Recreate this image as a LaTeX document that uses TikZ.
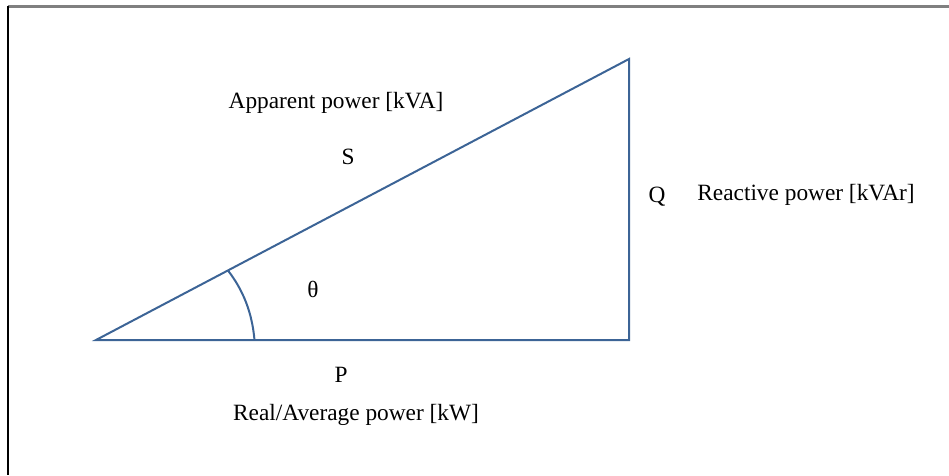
\documentclass[tikz,border=0pt]{standalone}
\usepackage{fontspec}
\setmainfont{Liberation Serif}
\definecolor{sideblue}{RGB}{60,100,150}
\begin{document}
\begin{tikzpicture}[x=0.6pt, y=-0.6pt,
    side/.style={line width=1.2pt, sideblue},
    lbl/.style={font=\fontsize{14}{16}\selectfont, inner sep=0pt}]
    \useasboundingbox (0,0) rectangle (949,475);

    % Frame edges
    \draw[gray, line width=1.3pt] (8,6.5) -- (949,6.5);
    \draw[black, line width=1.1pt] (8,6) -- (8,475);

    % Corners of the triangle
    \coordinate (O) at (96,340);
    \coordinate (R) at (629,340);
    \coordinate (T) at (629,59);
    \coordinate (a1) at (254.5,340);
    \coordinate (a2) at (228,270.5);

    % Sides
    \draw[side] (O) -- (R) -- (T) -- cycle;
    % Angle mark
    \draw[side] (a1) .. controls (252,312) and (243,290) .. (a2);

    % Labels
    \node[lbl] (app) at (336,103) {Apparent power [kVA]};
    \node[lbl] (s) at (348,157) {S};
    \node[lbl] (th) at (313,289) {θ};
    \node[lbl] (q) at (657,197) {Q};
    \node[lbl] (react) at (806,195) {Reactive power [kVAr]};
    \node[lbl] (p) at (341,375) {P};
    \node[lbl] (real) at (356,415) {Real/Average power [kW]};
\end{tikzpicture}
\end{document}
